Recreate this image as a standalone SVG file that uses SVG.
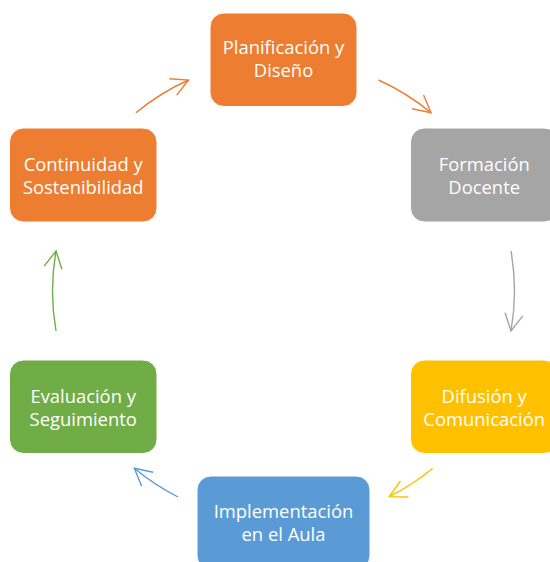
<svg xmlns="http://www.w3.org/2000/svg" width="550" height="562" viewBox="0 0 550 562">
<style>
.box{stroke:#ffffff;stroke-width:1}
.lbl{font-family:"Open Sans","Liberation Sans",sans-serif;font-size:18.4px;fill:#ffffff;text-anchor:middle}
.arc{fill:none;stroke-width:1.4}
</style>
<defs>
<marker id="hOr" viewBox="-20 -11 22 22" refX="0" refY="0" markerWidth="22" markerHeight="22" markerUnits="userSpaceOnUse" orient="auto"><path d="M-17,-9 L0,0 L-17,9" fill="none" stroke="#ED7D31" stroke-width="1.4"/></marker>
<marker id="hGr" viewBox="-20 -11 22 22" refX="0" refY="0" markerWidth="22" markerHeight="22" markerUnits="userSpaceOnUse" orient="auto"><path d="M-17,-9 L0,0 L-17,9" fill="none" stroke="#A5A5A5" stroke-width="1.4"/></marker>
<marker id="hYe" viewBox="-20 -11 22 22" refX="0" refY="0" markerWidth="22" markerHeight="22" markerUnits="userSpaceOnUse" orient="auto"><path d="M-17,-9 L0,0 L-17,9" fill="none" stroke="#FFC000" stroke-width="1.4"/></marker>
<marker id="hBl" viewBox="-20 -11 22 22" refX="0" refY="0" markerWidth="22" markerHeight="22" markerUnits="userSpaceOnUse" orient="auto"><path d="M-17,-9 L0,0 L-17,9" fill="none" stroke="#5B9BD5" stroke-width="1.4"/></marker>
<marker id="hGn" viewBox="-20 -11 22 22" refX="0" refY="0" markerWidth="22" markerHeight="22" markerUnits="userSpaceOnUse" orient="auto"><path d="M-17,-9 L0,0 L-17,9" fill="none" stroke="#70AD47" stroke-width="1.4"/></marker>
</defs>
<rect width="550" height="562" fill="#ffffff"/>
<g id="connectors">
<path class="arc" stroke="#ED7D31" marker-end="url(#hOr)" d="M136,112.7 A232,232 0 0 1 188.5,80"/>
<path class="arc" stroke="#ED7D31" marker-end="url(#hOr)" d="M378.5,80 A232,232 0 0 1 431,112.7"/>
<path class="arc" stroke="#A5A5A5" marker-end="url(#hGr)" d="M511,251 A232,232 0 0 1 511,331"/>
<path class="arc" stroke="#FFC000" marker-end="url(#hYe)" d="M432.7,468.3 A232,232 0 0 1 389.3,496.7"/>
<path class="arc" stroke="#5B9BD5" marker-end="url(#hBl)" d="M178,497 A232,232 0 0 1 134.3,468.3"/>
<path class="arc" stroke="#70AD47" marker-end="url(#hGn)" d="M56,331 A232,232 0 0 1 56,251"/>
</g>
<g id="planificacion">
<rect class="box" x="210" y="13" width="147" height="93.5" rx="14" fill="#ED7D31"/>
<text class="lbl" x="283.5" y="53.5">Planificación y</text>
<text class="lbl" x="283.5" y="77">Diseño</text>
</g>
<g id="formacion">
<rect class="box" x="410.5" y="128" width="147.5" height="94" rx="14" fill="#A5A5A5"/>
<text class="lbl" x="484.2" y="171">Formación</text>
<text class="lbl" x="484.2" y="194">Docente</text>
</g>
<g id="difusion">
<rect class="box" x="410.5" y="360" width="147.5" height="93.5" rx="14" fill="#FFC000"/>
<text class="lbl" x="484.2" y="403">Difusión y</text>
<text class="lbl" x="484.2" y="426">Comunicación</text>
</g>
<g id="implementacion">
<rect class="box" x="197" y="476" width="173" height="93.5" rx="14" fill="#5B9BD5"/>
<text class="lbl" x="283.5" y="518">Implementación</text>
<text class="lbl" x="283.5" y="541">en el Aula</text>
</g>
<g id="evaluacion">
<rect class="box" x="9.5" y="360" width="147.5" height="93.5" rx="14" fill="#70AD47"/>
<text class="lbl" x="83.2" y="403">Evaluación y</text>
<text class="lbl" x="83.2" y="426">Seguimiento</text>
</g>
<g id="continuidad">
<rect class="box" x="9.5" y="128" width="147.5" height="94" rx="14" fill="#ED7D31"/>
<text class="lbl" x="83.2" y="171">Continuidad y</text>
<text class="lbl" x="83.2" y="194">Sostenibilidad</text>
</g>
</svg>
